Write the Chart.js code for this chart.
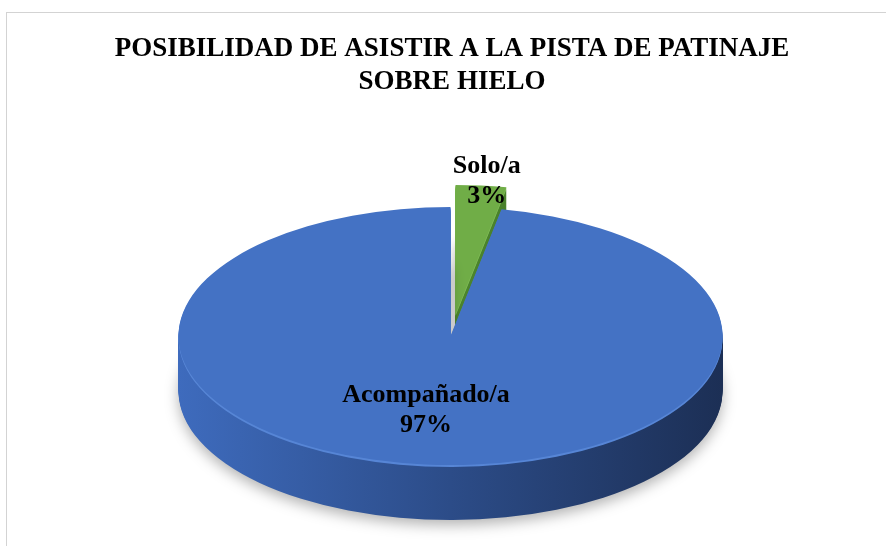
<!DOCTYPE html>
<html><head><meta charset="utf-8">
<script src="https://cdn.jsdelivr.net/npm/chart.js@4.4.1/dist/chart.umd.min.js"></script>
<style>
html,body{margin:0;padding:0;background:#fff;}
#wrap{position:relative;width:886px;height:546px;overflow:hidden;}
#frame{position:absolute;left:6px;top:12px;width:1000px;height:1000px;border-left:1px solid #d3d3d3;border-top:1px solid #d3d3d3;}
canvas{position:absolute;left:0;top:0;}
</style></head><body>
<div id="wrap"><div id="frame"></div><canvas id="c" width="886" height="546"></canvas></div>
<script>
// ---- data ----
const titleLines = ['POSIBILIDAD DE ASISTIR A LA PISTA DE PATINAJE', 'SOBRE HIELO'];
const categories = ['Solo/a', 'Acompañado/a'];
const percentages = [3, 97];

// ---- styles ----
const topColors = ['#70AD47', '#4472C4'];
const rimColors = ['#7fbb55', '#5786d6'];
const sideStops = [
  ['#5a9838', '#4c852d', '#3d6e23'],
  ['#3e6bbd', '#2c4c88', '#1c2f55']
];
const ELL = {cx: 450.5, cy: 336, rx: 272, ry: 129, depth: 55};
const EXPLODE = [{dx: 5, dy: -22}, {dx: 0, dy: 0}];
const LABEL_F = [1.22, 0.565];
const LABEL_DX = [5, -10];
const FONT = '"Liberation Serif", "Times New Roman", serif';

const pie3d = {
  id: 'pie3d',
  beforeDatasetsDraw(chart) {
    const ctx = chart.ctx;
    const base = ctx.getTransform();
    const arcs = chart.getDatasetMeta(0).data;
    const R = arcs[0].outerRadius, ox = arcs[0].x, oy = arcs[0].y;
    const sx = ELL.rx / R, sy = ELL.ry / R;
    const place = (i, d) => {
      ctx.setTransform(base);
      ctx.translate(ELL.cx + EXPLODE[i].dx, ELL.cy + EXPLODE[i].dy + d);
      ctx.scale(sx, sy);
      ctx.translate(-ox, -oy);
    };
    const sector = (a) => {
      ctx.beginPath();
      ctx.moveTo(a.x, a.y);
      ctx.arc(a.x, a.y, a.outerRadius, a.startAngle, a.endAngle);
      ctx.closePath();
    };
    arcs.forEach((a, i) => {
      ctx.save();
      const g = ctx.createLinearGradient(ox - R, 0, ox + R, 0);
      g.addColorStop(0, sideStops[i][0]);
      g.addColorStop(0.5, sideStops[i][1]);
      g.addColorStop(1, sideStops[i][2]);
      for (let d = ELL.depth; d >= 1; d--) {
        place(i, d);
        if (d === ELL.depth) {
          ctx.shadowColor = 'rgba(0,0,0,0.30)'; ctx.shadowBlur = 14; ctx.shadowOffsetY = 5;
        } else {
          ctx.shadowColor = 'rgba(0,0,0,0)'; ctx.shadowBlur = 0; ctx.shadowOffsetY = 0;
        }
        sector(a);
        ctx.fillStyle = d <= 2 ? rimColors[i] : g;
        ctx.fill();
      }
      ctx.shadowColor = 'rgba(0,0,0,0)'; ctx.shadowBlur = 0; ctx.shadowOffsetY = 0;
      place(i, 0);
      a.draw(ctx);
      ctx.restore();
    });
    ctx.setTransform(base);
    return false;
  },
  afterDraw(chart) {
    const ctx = chart.ctx;
    const arcs = chart.getDatasetMeta(0).data;
    ctx.save();
    ctx.font = 'bold 26px ' + FONT;
    ctx.fillStyle = '#000';
    ctx.textAlign = 'center';
    ctx.textBaseline = 'alphabetic';
    arcs.forEach((a, i) => {
      const mid = (a.startAngle + a.endAngle) / 2;
      const ax = ELL.cx + Math.cos(mid) * ELL.rx * LABEL_F[i] + LABEL_DX[i];
      const ay = ELL.cy + Math.sin(mid) * ELL.ry * LABEL_F[i];
      ctx.fillText(categories[i], ax, ay - 6.5);
      ctx.fillText(percentages[i] + '%', ax, ay + 23.5);
    });
    ctx.restore();
  }
};

new Chart(document.getElementById('c'), {
  type: 'pie',
  data: {
    labels: categories,
    datasets: [{
      data: percentages,
      backgroundColor: topColors,
      borderWidth: 0
    }]
  },
  options: {
    responsive: false,
    animation: false,
    layout: {padding: {left: 18}},
    plugins: {
      legend: {display: false},
      tooltip: {enabled: false},
      title: {
        display: true,
        text: titleLines,
        color: '#000',
        font: {family: FONT, size: 27, weight: 'bold', lineHeight: 1.2},
        padding: {top: 33, bottom: 10}
      }
    }
  },
  plugins: [pie3d]
});
</script>
</body></html>
